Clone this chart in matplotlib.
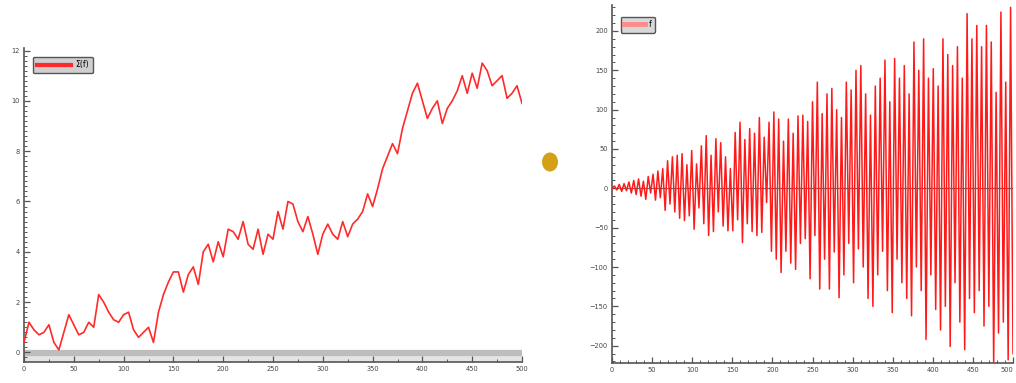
import numpy as np
import matplotlib
matplotlib.use("Agg")
import matplotlib.pyplot as plt
from matplotlib.patches import Ellipse
from matplotlib.ticker import MultipleLocator

# ---- data ----
left_label = "Σ(f)"
left_values = [
    0.4, 1.2, 0.9, 0.7, 0.8, 1.1, 0.4, 0.1, 0.8, 1.5,
    1.1, 0.7, 0.8, 1.2, 1.0, 2.3, 2.0, 1.6, 1.3, 1.2,
    1.5, 1.6, 0.9, 0.6, 0.8, 1.0, 0.4, 1.6, 2.3, 2.8,
    3.2, 3.2, 2.4, 3.1, 3.4, 2.7, 4.0, 4.3, 3.6, 4.4,
    3.8, 4.9, 4.8, 4.5, 5.2, 4.3, 4.1, 4.9, 3.9, 4.7,
    4.5, 5.6, 4.9, 6.0, 5.9, 5.2, 4.8, 5.4, 4.7, 3.9,
    4.7, 5.1, 4.7, 4.5, 5.2, 4.6, 5.1, 5.3, 5.6, 6.3,
    5.8, 6.5, 7.3, 7.8, 8.3, 7.9, 8.9, 9.6, 10.3, 10.7,
    10.0, 9.3, 9.7, 10.0, 9.1, 9.7, 10.0, 10.4, 11.0, 10.3,
    11.1, 10.5, 11.5, 11.2, 10.6, 10.8, 11.0, 10.1, 10.3, 10.6,
    9.9,
]
right_label = "f"
right_values = [
    0, 3, -2, 5, -4, 6, -3, 8, -6, 10,
    -8, 12, -10, 9, -14, 15, -6, 18, -15, 22,
    -12, 25, -28, 35, -20, 40, -30, 42, -38, 44,
    -41, 30, -35, 48, -52, 31, -25, 54, -45, 67,
    -60, 42, -55, 63, -30, 58, -48, 40, -54, 25,
    -54, 71, -40, 84, -69, 62, -45, 76, -55, 70,
    -60, 90, -56, 65, -18, 84, -80, 97, -90, 88,
    -107, 60, -80, 88, -95, 70, -103, 92, -70, 93,
    -64, 85, -115, 110, -60, 135, -128, 95, -90, 120,
    -128, 127, -81, 100, -139, 90, -110, 135, -70, 125,
    -120, 150, -77, 156, -100, 120, -140, 93, -150, 130,
    -110, 140, -80, 163, -130, 110, -158, 165, -90, 140,
    -120, 156, -140, 120, -162, 186, -100, 150, -130, 190,
    -192, 140, -110, 152, -154, 130, -180, 190, -150, 170,
    -201, 156, -120, 180, -170, 140, -205, 222, -140, 190,
    -158, 207, -130, 180, -175, 207, -150, 186, -224, 122,
    -184, 224, -170, 135, -218, 230, -210,
]
x_max = 500
left_xticks = [0, 50, 100, 150, 200, 250, 300, 350, 400, 450, 500]
left_yticks = [0, 2, 4, 6, 8, 10, 12]
right_yticks = [-200, -150, -100, -50, 0, 50, 100, 150, 200]

left_x = np.linspace(0, x_max, len(left_values))
right_x = np.linspace(0, x_max, len(right_values))

fig = plt.figure(figsize=(10.16, 3.83), dpi=100)
W, H = 1016, 383

def style_axes(ax):
    for s in ("top", "right"):
        ax.spines[s].set_visible(False)
    for s in ("left", "bottom"):
        ax.spines[s].set_color("#555555")
        ax.spines[s].set_linewidth(1.2)
    ax.tick_params(which="both", direction="in", colors="#555555",
                   labelsize=4.8, labelcolor="#444444", pad=3)
    ax.tick_params(which="major", length=4, width=0.9)
    ax.tick_params(which="minor", length=2, width=0.7)

# ---- left axes ----
axL = fig.add_axes([24 / W, 1 - 362 / H, (522 - 24) / W, (362 - 48) / H])
axL.set_xlim(0, x_max)
axL.set_ylim(-0.38, 12.1)
axL.axhspan(-0.38, -0.12, color="#e4e4e4", lw=0, zorder=0)
axL.axhline(-0.02, color="#bdbdbd", lw=4.5, zorder=1)
axL.plot(left_x, left_values, color="#ff2a2a", lw=1.2, label=left_label, zorder=3)
axL.set_xticks(left_xticks)
axL.set_yticks(left_yticks)
axL.xaxis.set_minor_locator(MultipleLocator(25))
axL.yaxis.set_minor_locator(MultipleLocator(0.2))
style_axes(axL)
legL = axL.legend(loc="upper left", bbox_to_anchor=(0.01, 0.985), fontsize=5.5,
                  frameon=True, fancybox=True, handlelength=4.5,
                  borderpad=0.5, handletextpad=0.6)
legL.get_frame().set_facecolor("#cfcfcf")
legL.get_frame().set_edgecolor("#555555")
legL.get_frame().set_alpha(1)

# ---- right axes ----
axR = fig.add_axes([612 / W, 1 - 363 / H, (1013 - 612) / W, (363 - 5) / H])
axR.set_xlim(0, x_max)
axR.set_ylim(-222, 233)
axR.axhline(0, color="#6a6a6a", lw=0.9, zorder=1)
axR.plot(right_x, right_values, color="#ff1a1a", lw=1.1, label=right_label, zorder=3)
axR.set_xticks(left_xticks)
axR.set_yticks(right_yticks)
axR.xaxis.set_minor_locator(MultipleLocator(10))
axR.yaxis.set_minor_locator(MultipleLocator(10))
style_axes(axR)
lbls = axR.get_xticklabels()
lbls[-1].set_horizontalalignment("right")
legR = axR.legend(loc="upper left", bbox_to_anchor=(0.012, 0.978), fontsize=5.5,
                  frameon=True, fancybox=True, handlelength=2.8,
                  borderpad=0.45, handletextpad=0.4)
legR.get_frame().set_facecolor("#d8d8d8")
legR.get_frame().set_edgecolor("#555555")
legR.get_frame().set_alpha(1)
for line in legR.get_lines():
    line.set_color("#ff8a8a")
    line.set_linewidth(3.5)
for line in legL.get_lines():
    line.set_linewidth(3)

# ---- decorative dot between panels ----
fig.add_artist(Ellipse((550 / W, 1 - 162 / H), 16 / W, 19 / H,
                       transform=fig.transFigure, facecolor="#d4a017",
                       edgecolor="none"))

fig.savefig("out.png", dpi=100)
